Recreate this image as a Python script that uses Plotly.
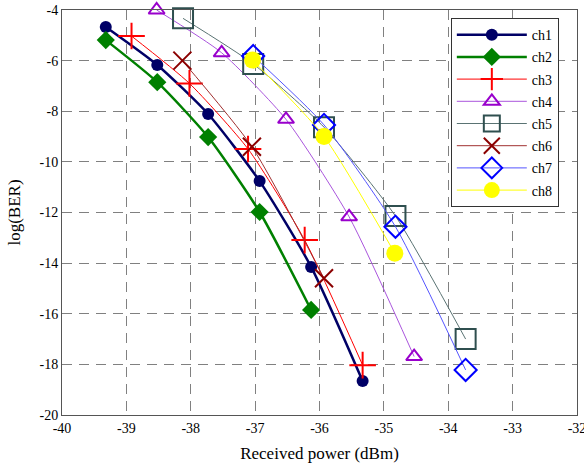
import plotly.graph_objects as go

# Data
ch1_x = [-39.32, -38.52, -37.73, -36.93, -36.13, -35.33]
ch1_y = [-4.67, -6.17, -8.11, -10.76, -14.15, -18.66]
ch2_x = [-39.32, -38.52, -37.73, -36.93, -36.13]
ch2_y = [-5.19, -6.85, -9.02, -11.98, -15.85]
ch3_x = [-38.92, -38.02, -37.11, -36.23, -35.33]
ch3_y = [-5.03, -6.90, -9.49, -13.09, -18.03]
ch4_x = [-38.53, -37.52, -36.52, -35.54, -34.53]
ch4_y = [-4.00, -5.69, -8.32, -12.17, -17.69]
ch5_x = [-38.12, -37.03, -35.93, -34.82, -33.73]
ch5_y = [-4.33, -6.13, -8.63, -12.14, -17.00]
ch6_x = [-38.13, -37.05, -35.93]
ch6_y = [-6.00, -9.40, -14.60]
ch7_x = [-37.03, -35.93, -34.82, -33.73]
ch7_y = [-5.82, -8.54, -12.56, -18.22]
ch8_x = [-37.04, -35.93, -34.83]
ch8_y = [-5.98, -9.00, -13.61]

x_ticks = [-40, -39, -38, -37, -36, -35, -34, -33, -32]
y_ticks = [-20, -18, -16, -14, -12, -10, -8, -6, -4]

series = [
    ("ch1", ch1_x, ch1_y, "#000066", "#000066", 2.5, "circle", 12),
    ("ch2", ch2_x, ch2_y, "#008000", "#008000", 2.5, "diamond", 14),
    ("ch3", ch3_x, ch3_y, "#ff0000", "#ff0000", 1, "cross-thin-open", 19),
    ("ch4", ch4_x, ch4_y, "#9900cc", "#aa55dd", 1, "triangle-up-open", 14),
    ("ch5", ch5_x, ch5_y, "#2f4f4f", "#5a7373", 1, "square-open", 20),
    ("ch6", ch6_x, ch6_y, "#8b0000", "#a03030", 1, "x-thin-open", 18),
    ("ch7", ch7_x, ch7_y, "#0000ff", "#5555ff", 1, "diamond-open", 17),
    ("ch8", ch8_x, ch8_y, "#ffff00", "#ffff00", 1, "circle", 17),
]

fig = go.Figure()
for name, xs, ys, mc, lc, lw, sym, sz in series:
    open_sym = "open" in sym
    fig.add_trace(go.Scatter(
        x=xs, y=ys, name=name, mode="lines+markers", legendgroup=name,
        line=dict(color=lc, width=lw, shape="spline", smoothing=0.6),
        marker=dict(symbol=sym, size=sz, color=mc,
                    line=dict(color=mc, width=2 if open_sym else 0)),
        cliponaxis=False,
    ))

font = "Liberation Serif"
fig.update_layout(
    width=584, height=470,
    margin=dict(l=62, r=7, t=10, b=55),
    paper_bgcolor="white", plot_bgcolor="white",
    font=dict(family=font, size=14, color="black"),
    legend=dict(
        x=0.755, y=0.98, xanchor="left", yanchor="top",
        bgcolor="white", bordercolor="#333333", borderwidth=1,
        font=dict(family=font, size=14), itemwidth=70,
        tracegroupgap=1,
    ),
    showlegend=True,
)
fig.update_xaxes(
    range=[-40, -32], tickvals=x_ticks, ticktext=[str(v) for v in x_ticks],
    showgrid=True, gridcolor="#808080", gridwidth=1, griddash="10px,7px",
    showline=True, mirror=True, linecolor="#555555", linewidth=1,
    zeroline=False, ticks="", ticklabeloverflow="allow", automargin=False,
    title=dict(text="Received power (dBm)", standoff=12),
)
fig.update_yaxes(
    range=[-20, -4], tickvals=y_ticks, ticktext=[str(v) for v in y_ticks],
    showgrid=True, gridcolor="#808080", gridwidth=1, griddash="10px,7px",
    showline=True, mirror=True, linecolor="#555555", linewidth=1,
    zeroline=False, ticks="", ticklabeloverflow="allow", automargin=False,
    title=dict(text="log(BER)", standoff=14),
)
fig.write_html("out.html")
